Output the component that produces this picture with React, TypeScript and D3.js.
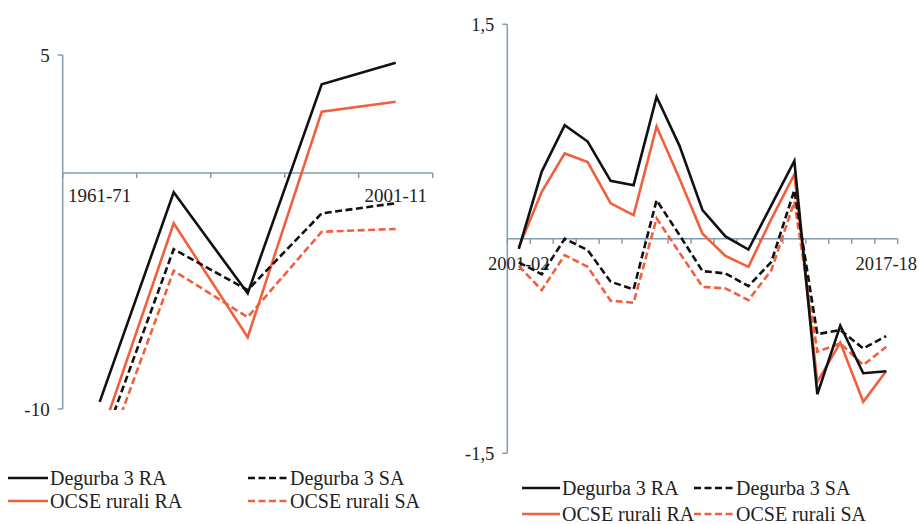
import React from "react";
import * as d3 from "d3";

// ---------- Data ----------
const leftCategories = ["1961-71", "1971-81", "1981-91", "1991-01", "2001-11"];
const leftShownLabels = ["1961-71", "2001-11"];
const leftDegurbaRA = [-9.7, -0.82, -5.1, 3.76, 4.67];
const leftDegurbaSA = [-11.8, -3.23, -4.96, -1.71, -1.28];
const leftOcseRA = [-11.3, -2.13, -6.96, 2.6, 3.02];
const leftOcseSA = [-12.7, -4.14, -6.11, -2.49, -2.37];
const leftYTicks = [-10, 5];

const rightCategories = [
  "2001-02", "2002-03", "2003-04", "2004-05", "2005-06", "2006-07", "2007-08", "2008-09",
  "2009-10", "2010-11", "2011-12", "2012-13", "2013-14", "2014-15", "2015-16", "2016-17", "2017-18",
];
const rightShownLabels = ["2001-02", "2017-18"];
const rightDegurbaRA = [-0.07, 0.47, 0.795, 0.68, 0.405, 0.375, 0.993, 0.65, 0.2, 0.017, -0.075, 0.236, 0.545, -1.087, -0.607, -0.94, -0.926];
const rightDegurbaSA = [-0.165, -0.248, 0.0, -0.079, -0.3, -0.354, 0.27, 0.026, -0.226, -0.242, -0.331, -0.161, 0.34, -0.667, -0.638, -0.767, -0.68];
const rightOcseRA = [-0.06, 0.329, 0.597, 0.536, 0.248, 0.166, 0.785, 0.42, 0.035, -0.12, -0.196, 0.14, 0.45, -1.0, -0.726, -1.14, -0.924];
const rightOcseSA = [-0.19, -0.359, -0.114, -0.196, -0.433, -0.447, 0.143, -0.097, -0.336, -0.347, -0.429, -0.219, 0.259, -0.79, -0.731, -0.883, -0.755];
const rightYTicks = [-1.5, 1.5];

const seriesNames = ["Degurba 3 RA", "Degurba 3 SA", "OCSE rurali RA", "OCSE rurali SA"];

// ---------- Styles ----------
const BLACK = "#111111";
const RED = "#F0603E";
const AXIS = "#7F9DB2";
const FONT = '"Liberation Serif", "Times New Roman", Tinos, "DejaVu Serif", serif';
const DASH = "7 3.5";

type Series = { name: string; values: number[]; color: string; dashed: boolean };

function Panel(props: {
  id: string;
  categories: string[];
  shown: string[];
  series: Series[];
  yDomain: [number, number];
  yTicks: number[];
  x0: number; x1: number; yTop: number; yBottom: number;
  fmt: (v: number) => string;
  tickFont: number;
  labelOffset: number;
}) {
  const { id, categories, shown, series, yDomain, yTicks, x0, x1, yTop, yBottom, fmt, tickFont, labelOffset } = props;
  const x = d3.scaleBand<string>().domain(categories).range([x0, x1]).padding(0);
  const y = d3.scaleLinear().domain(yDomain).range([yBottom, yTop]);
  const y0 = y(0);
  const line = d3
    .line<number>()
    .x((_, i) => (x(categories[i]) as number) + x.bandwidth() / 2)
    .y((v) => y(v));
  const boundaries = categories.map((c) => x(c) as number).concat([x1]);
  return (
    <g>
      <defs>
        <clipPath id={id}>
          <rect x={x0} y={yTop - 2} width={x1 - x0 + 2} height={yBottom - yTop + 3} />
        </clipPath>
      </defs>
      {/* y axis */}
      <line x1={x0} x2={x0} y1={yTop} y2={yBottom} stroke={AXIS} strokeWidth={1.5} />
      {yTicks.map((t) => (
        <g key={t}>
          <line x1={x0 - 5} x2={x0} y1={y(t)} y2={y(t)} stroke={AXIS} strokeWidth={1.5} />
          <text x={x0 - 13} y={y(t)} dy="0.35em" textAnchor="end" style={{ fontFamily: FONT }} fontSize={tickFont} fill="#222">
            {fmt(t)}
          </text>
        </g>
      ))}
      {/* x axis at zero */}
      <line x1={x0} x2={x1} y1={y0} y2={y0} stroke={AXIS} strokeWidth={1.5} />
      {boundaries.map((b, i) => (
        <line key={i} x1={b} x2={b} y1={y0} y2={y0 + 5} stroke={AXIS} strokeWidth={1.5} />
      ))}
      {categories.filter((c) => shown.includes(c)).map((c) => (
        <text key={c} x={(x(c) as number) + x.bandwidth() / 2} y={y0 + labelOffset} textAnchor="middle"
          style={{ fontFamily: FONT }} fontSize={tickFont} fill="#222">
          {c}
        </text>
      ))}
      <g clipPath={`url(#${id})`}>
        {series.map((s) => (
          <path key={s.name} d={line(s.values) || ""} fill="none" stroke={s.color} strokeWidth={2.6}
            strokeDasharray={s.dashed ? DASH : undefined} strokeLinejoin="miter" />
        ))}
      </g>
    </g>
  );
}

function Legend(props: { items: Series[]; positions: { lx: number; ly: number; w: number }[]; fontSize: number }) {
  const { items, positions, fontSize } = props;
  return (
    <g>
      {items.map((s, i) => {
        const p = positions[i];
        return (
          <g key={s.name}>
            <line x1={p.lx} x2={p.lx + p.w} y1={p.ly} y2={p.ly} stroke={s.color} strokeWidth={2.6}
              strokeDasharray={s.dashed ? DASH : undefined} />
            <text x={p.lx + p.w + 2} y={p.ly} dy="0.33em" style={{ fontFamily: FONT }} fontSize={fontSize} fill="#222">
              {s.name}
            </text>
          </g>
        );
      })}
    </g>
  );
}

export default function App() {
  const fmt = (v: number) => String(v).replace(".", ",");
  const leftSeries: Series[] = [
    { name: seriesNames[2], values: leftOcseRA, color: RED, dashed: false },
    { name: seriesNames[3], values: leftOcseSA, color: RED, dashed: true },
    { name: seriesNames[1], values: leftDegurbaSA, color: BLACK, dashed: true },
    { name: seriesNames[0], values: leftDegurbaRA, color: BLACK, dashed: false },
  ];
  const rightSeries: Series[] = [
    { name: seriesNames[2], values: rightOcseRA, color: RED, dashed: false },
    { name: seriesNames[3], values: rightOcseSA, color: RED, dashed: true },
    { name: seriesNames[1], values: rightDegurbaSA, color: BLACK, dashed: true },
    { name: seriesNames[0], values: rightDegurbaRA, color: BLACK, dashed: false },
  ];
  const legendItems: Series[] = [
    { name: seriesNames[0], values: [], color: BLACK, dashed: false },
    { name: seriesNames[1], values: [], color: BLACK, dashed: true },
    { name: seriesNames[2], values: [], color: RED, dashed: false },
    { name: seriesNames[3], values: [], color: RED, dashed: true },
  ];
  return (
    <svg width={919} height={524} style={{ position: "absolute", left: 0, top: 0, background: "#fff" }}>
      <rect width={919} height={524} fill="#fff" />
      <Panel id="clipL" categories={leftCategories} shown={leftShownLabels} series={leftSeries}
        yDomain={[-10, 5]} yTicks={leftYTicks} x0={62.7} x1={432.7} yTop={55} yBottom={409}
        fmt={fmt} tickFont={19} labelOffset={29} />
      <Panel id="clipR" categories={rightCategories} shown={rightShownLabels} series={rightSeries}
        yDomain={[-1.5, 1.5]} yTicks={rightYTicks} x0={507.3} x1={897.7} yTop={24.3} yBottom={453.3}
        fmt={fmt} tickFont={18.5} labelOffset={31} />
      <Legend items={legendItems} fontSize={20}
        positions={[
          { lx: 8, ly: 478, w: 40 },
          { lx: 248, ly: 478, w: 40 },
          { lx: 8, ly: 501, w: 40 },
          { lx: 248, ly: 501, w: 40 },
        ]} />
      <Legend items={legendItems} fontSize={20}
        positions={[
          { lx: 522, ly: 488, w: 38 },
          { lx: 694, ly: 488, w: 40 },
          { lx: 522, ly: 514, w: 38 },
          { lx: 694, ly: 514, w: 40 },
        ]} />
    </svg>
  );
}
